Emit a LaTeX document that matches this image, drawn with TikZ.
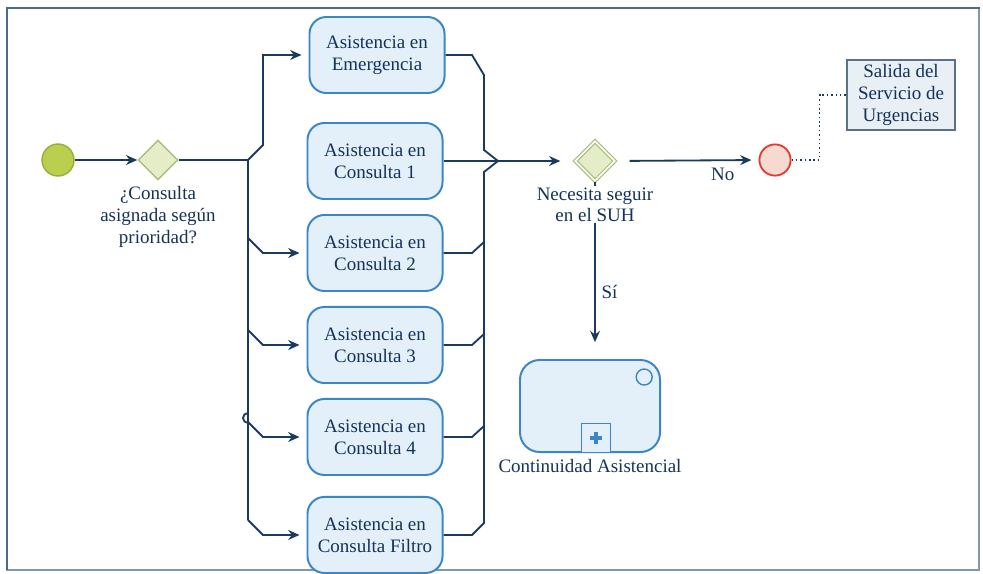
\documentclass[tikz,border=0pt]{standalone}
\usepackage{fontspec}
\setmainfont{Liberation Serif}
\usetikzlibrary{arrows.meta,positioning,shapes.geometric,calc}
\definecolor{linec}{HTML}{1A3A60}
\definecolor{txtc}{HTML}{14325A}
\definecolor{taskfill}{HTML}{E3F0FA}
\definecolor{taskdraw}{HTML}{3B86C8}
\definecolor{startfill}{HTML}{BBCF4E}
\definecolor{startdraw}{HTML}{97AD3A}
\definecolor{gatefill}{HTML}{E4EDC8}
\definecolor{gatedraw}{HTML}{A9C07A}
\definecolor{endfill}{HTML}{F6D9D0}
\definecolor{enddraw}{HTML}{E53A2E}
\definecolor{notefill}{HTML}{E8EFF5}
\definecolor{notedraw}{HTML}{5A7288}
\definecolor{framec}{HTML}{4A6B8A}

\begin{document}
\begin{tikzpicture}[x=0.025cm,y=-0.025cm,
  task/.style={draw=taskdraw,line width=1.4pt,rounded corners=12pt,fill=taskfill,
    minimum width=3.375cm,minimum height=1.9cm,align=center,text=txtc,
    font=\fontsize{13.5}{15.5}\selectfont},
  startev/.style={circle,draw=startdraw,line width=1pt,fill=startfill,minimum size=0.8cm,inner sep=0pt},
  endev/.style={circle,draw=enddraw,line width=1.3pt,fill=endfill,minimum size=0.78cm,inner sep=0pt},
  gate/.style={diamond,aspect=1,draw=gatedraw,line width=1pt,fill=gatefill,minimum size=1cm,inner sep=0pt},
  gatetwo/.style={gate,double=white,double distance=1.2pt,line width=0.8pt},
  lbl/.style={align=center,text=txtc,inner sep=1pt,font=\fontsize{13.5}{15.5}\selectfont},
  note/.style={draw=notedraw,line width=1.3pt,fill=notefill,minimum width=2.7cm,minimum height=1.75cm,
    align=center,text=txtc,font=\fontsize{13.5}{15.5}\selectfont},
  subproc/.style={draw=taskdraw,line width=1.4pt,rounded corners=14pt,fill=taskfill,
    minimum width=3.5cm,minimum height=2.3cm},
  ln/.style={linec,line width=1.3pt},
  arr/.style={ln,-{Stealth[length=8pt,width=7pt]}},
  dotln/.style={linec,line width=1.1pt,dotted}]
\useasboundingbox (0,0) rectangle (983,573);
% frame
\draw[framec!70,line width=0.8pt] (7,8) rectangle (979,570);
\draw[framec,line width=2pt] (6,8) -- (980,8);
\draw[framec,line width=1.6pt] (7,8) -- (7,570);

% events and gateways
\node[startev] (st) at (58,160) {};
\node[gate] (g1) at (158,160) {};
\node[lbl,below=3pt of g1] (g1l) {¿Consulta\\asignada según\\prioridad?};

% tasks
\node[task] (emer) at (377,55) {Asistencia en\\Emergencia};
\node[task] (c1) at (375,161) {Asistencia en\\Consulta 1};
\node[task,below=0.35cm of c1] (c2) {Asistencia en\\Consulta 2};
\node[task,below=0.35cm of c2] (c3) {Asistencia en\\Consulta 3};
\node[task,below=0.35cm of c3] (c4) {Asistencia en\\Consulta 4};
\node[task,below=0.5cm of c4] (cf) {Asistencia en\\Consulta Filtro};

\node[gatetwo] (g2) at (595,161) {};
\node[endev] (fin) at (775,160) {};
\node[note] (sal) at (901,95) {Salida del\\Servicio de\\Urgencias};

% subprocess
\node[subproc] (cont) at (590,406) {};
\node[circle,draw=taskdraw,line width=1pt,minimum size=0.4cm,inner sep=0pt] (contev)
  at ([xshift=-0.42cm,yshift=-0.45cm]cont.north east) {};
\node[draw=taskdraw,line width=0.8pt,fill=taskfill,minimum size=0.72cm,anchor=south] (mk)
  at ([xshift=0.15cm]cont.south) {};
\draw[taskdraw,line width=2.4pt] ([xshift=-0.16cm]mk.center) -- ([xshift=0.16cm]mk.center);
\draw[taskdraw,line width=2.4pt] ([yshift=-0.16cm]mk.center) -- ([yshift=0.16cm]mk.center);
\node[lbl,below=3pt of cont] (contl) {Continuidad Asistencial};

% split
\coordinate (sp) at (248,160);
\draw[arr] (st) -- (g1);
\draw[ln] (g1.east) -- (sp);
\draw[arr,shorten >=5pt] (sp) -- ++(15,-15) |- (emer.west);
\draw[ln] (sp) -- ($(cf.west -| sp)+(0,-15)$);
\draw[ln] ($(c4.west -| sp)+(0,-14)$) arc[start angle=90,end angle=270,radius=5];
\foreach \t in {c2,c3,c4,cf} {\draw[arr,shorten >=5pt] ($(\t.west -| sp)+(0,-15)$) -- ++(15,15) -- (\t.west);}

% merge
\coordinate (rb) at (484,161);
\coordinate (mp) at (498,161);
\draw[ln] (emer.east) -- ($(emer.east -| rb)+(-12,0)$) -- ($(emer.east -| rb)+(0,20)$)
  -- ($(rb)+(0,-11)$) -- (mp);
\draw[ln] (c1.east) -- (mp);
\draw[ln] (mp) -- ($(rb)+(0,11)$) -- ($(cf.east -| rb)+(0,-12)$)
  -- ($(cf.east -| rb)+(-12,0)$) -- (cf.east);
\foreach \t in {c2,c3,c4} {\draw[ln] (\t.east) -- ($(\t.east -| rb)+(-12,0)$) -- ($(\t.east -| rb)+(0,-11)$);}
\draw[arr,shorten >=10pt] (mp) -- (g2.west);

% decision
\draw[arr,shorten <=10pt,shorten >=5pt] (g2.east) -- (fin.west)
  node[lbl,pos=0.75,below=4pt] (no) {No};
\draw[arr,shorten >=12pt] (g2.south) -- (g2.south |- cont.north)
  node[lbl,pos=0.62,right=3pt] (si) {Sí};
\node[lbl,fill=white,below=3pt of g2] (g2l) {Necesita seguir\\en el SUH};
\draw[dotln] (fin.east) -- ++(28,0) |- (sal.west);
\end{tikzpicture}
\end{document}
